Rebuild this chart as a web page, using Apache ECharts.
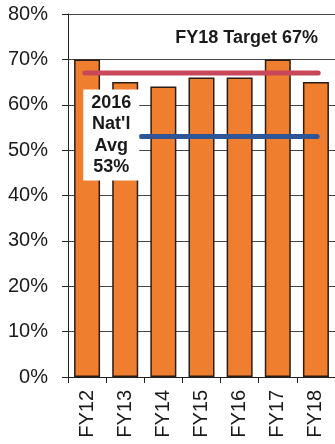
<!DOCTYPE html>
<html>
<head>
<meta charset="utf-8">
<script src="https://cdn.jsdelivr.net/npm/echarts@6/dist/echarts.min.js"></script>
<style>
  html, body { margin: 0; padding: 0; background: #fff; }
  #chart { width: 335px; height: 444px; }
</style>
</head>
<body>
<div id="chart"></div>
<script>
// Fiscal-year results (percent)
const categories = ['FY12', 'FY13', 'FY14', 'FY15', 'FY16', 'FY17', 'FY18'];
const values = [70, 65, 64, 66, 66, 70, 65];

// Reference levels
const targetValue = 67;      // FY18 target
const natAvgValue = 53;      // 2016 national average

// Horizontal extent of the reference lines, in category units
const targetSpan = [-0.06, 6.06];
const natAvgSpan = [1.42, 6.03];

const yTicks = { min: 0, max: 80, interval: 10 };

const FONT = "'Liberation Sans', Arial, sans-serif";
const BLUE = '#2E5597';

const chart = echarts.init(document.getElementById('chart'), null, { renderer: 'canvas' });

chart.setOption({
  animation: false,
  backgroundColor: '#fff',
  title: {
    text: 'FY18 Target ' + targetValue + '%',
    right: 17,
    top: 29,
    padding: 0,
    textStyle: { fontFamily: FONT, fontSize: 18, fontWeight: 'bold', color: '#1a1a1a' }
  },
  grid: { left: 68, right: -3, top: 14, bottom: 67 },
  xAxis: [
    {
      type: 'category',
      data: categories,
      axisLine: { onZero: false, lineStyle: { color: '#222', width: 1 } },
      axisTick: { show: true, length: 6, lineStyle: { color: '#222' } },
      axisLabel: {
        rotate: 90, margin: 13, fontFamily: FONT, fontSize: 20, color: '#1a1a1a'
      }
    },
    {
      type: 'value', min: -0.5, max: 6.5, show: false,
      axisLine: { onZero: false }
    }
  ],
  yAxis: {
    type: 'value',
    min: yTicks.min, max: yTicks.max, interval: yTicks.interval,
    axisLine: { show: true, onZero: false, lineStyle: { color: '#222', width: 1 } },
    axisTick: { show: true, length: 6, lineStyle: { color: '#222' } },
    axisLabel: {
      formatter: '{value}%', margin: 20, fontFamily: FONT, fontSize: 20, color: '#1a1a1a'
    },
    splitLine: { show: true, lineStyle: { color: '#444', width: 1 } }
  },
  series: [
    {
      type: 'bar',
      data: values,
      barWidth: 26,
      itemStyle: { color: '#EF7F2E', borderColor: '#2b1d14', borderWidth: 1.5 },
      z: 2
    },
    {
      type: 'line',
      xAxisIndex: 1,
      data: targetSpan.map(x => [x, targetValue]),
      symbol: 'none',
      lineStyle: { color: '#C8475B', width: 5, cap: 'round' },
      z: 3
    },
    {
      type: 'line',
      xAxisIndex: 1,
      data: natAvgSpan.map((x, i) => ({
        value: [x, natAvgValue],
        label: { show: i === 0 }
      })),
      symbol: 'circle',
      symbolSize: 2,
      showSymbol: true,
      itemStyle: { color: BLUE },
      label: {
        position: 'left',
        distance: 1,
        offset: [-28, -1.5],
        formatter: '2016\nNat\'l\nAvg\n' + natAvgValue + '%',
        fontFamily: FONT, fontSize: 18, fontWeight: 'bold', color: '#1a1a1a',
        lineHeight: 21.5, align: 'center',
        backgroundColor: '#fff',
        padding: [3, 8, 2, 8],
        width: 40
      },
      lineStyle: { color: BLUE, width: 5, cap: 'round' },
      z: 4
    }
  ]
});
</script>
</body>
</html>
